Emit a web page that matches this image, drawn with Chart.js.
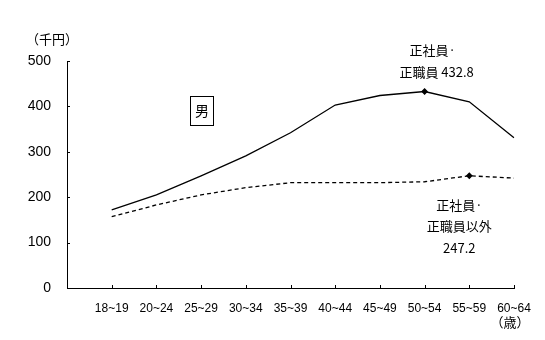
<!DOCTYPE html>
<html>
<head>
<meta charset="utf-8">
<script src="https://cdn.jsdelivr.net/npm/chart.js@4/dist/chart.umd.min.js"></script>
<style>
  html, body { margin: 0; padding: 0; background: #fff; }
  #wrap { width: 545px; height: 340px; }
</style>
</head>
<body>
<div id="wrap"><canvas id="myChart"></canvas></div>
<script>
// categories (first slot is empty so the axis starts one step before 18~19)
const ages = ['', '18~19', '20~24', '25~29', '30~34', '35~39', '40~44', '45~49', '50~54', '55~59', '60~64']
const seishain = [null, 172, 205, 247, 291, 342, 403, 424, 432.8, 410, 331]
const hiseishain = [null, 157, 183, 205, 221, 232, 232, 232, 234, 247.2, 242]
const yTicks = [0, 100, 200, 300, 400, 500]

const jp = '"Noto Sans CJK JP", sans-serif'

const extras = {
  id: 'extras',
  afterDraw(chart) {
    const c = chart.ctx
    const x = chart.scales.x
    const y = chart.scales.y
    c.save()
    c.strokeStyle = '#000'
    c.lineWidth = 1
    // inward tick marks
    x.ticks.forEach((t, i) => {
      if (i === 0) return
      const px = Math.round(x.getPixelForTick(i)) + 0.5
      c.beginPath(); c.moveTo(px, y.bottom); c.lineTo(px, y.bottom - 3); c.stroke()
    })
    yTicks.forEach(v => {
      const py = Math.round(y.getPixelForValue(v)) + 0.5
      c.beginPath(); c.moveTo(x.left, py); c.lineTo(x.left + 3, py); c.stroke()
    })
    c.fillStyle = '#000'
    c.textAlign = 'center'
    c.textBaseline = 'middle'
    c.font = '13px ' + jp
    c.fillText('（千円）', 52, 39)
    c.fillText('（歳）', 510, 322)
    // box label
    c.font = '14px ' + jp
    c.strokeRect(190.5, 96.5, 23, 29)
    c.fillText('男', 202, 111)
    // annotations
    c.font = '13px ' + jp
    const px1 = x.getPixelForValue(8)
    c.fillText('正社員·', px1 + 8, 50)
    c.fillText('正職員 432.8', px1 + 12, 72)
    const px2 = x.getPixelForValue(9)
    c.fillText('正社員·', px2 - 10, 205)
    c.fillText('正職員以外', px2 - 10, 226)
    c.fillText('247.2', px2 - 10, 248)
    c.restore()
  }
}

new Chart(document.querySelector('#myChart'), {
  type: 'line',
  data: {
    labels: ages,
    datasets: [
      {
        label: '正社員・正職員',
        data: seishain,
        borderColor: '#000',
        borderWidth: 1.3,
        pointRadius: seishain.map((v, i) => i === 8 ? 2.5 : 0),
        pointStyle: 'rectRot',
        backgroundColor: '#000',
        tension: 0
      },
      {
        label: '正社員・正職員以外',
        data: hiseishain,
        borderColor: '#000',
        borderWidth: 1.3,
        borderDash: [4, 3],
        pointRadius: hiseishain.map((v, i) => i === 9 ? 2.5 : 0),
        pointStyle: 'rectRot',
        backgroundColor: '#000',
        tension: 0
      }
    ]
  },
  options: {
    responsive: true,
    maintainAspectRatio: false,
    animation: false,
    layout: { padding: { top: 61, right: 31, left: 0, bottom: 0 } },
    plugins: {
      legend: { display: false },
      tooltip: { enabled: false }
    },
    scales: {
      x: {
        offset: false,
        grid: { display: false, drawTicks: false },
        border: { display: true, color: '#000', width: 1 },
        ticks: {
          color: '#000',
          font: { family: 'Liberation Sans', size: 12 },
          maxRotation: 0,
          autoSkip: false,
          padding: 13
        },
        afterFit(s) { s.height = 52 }
      },
      y: {
        min: 0,
        max: 500,
        grid: { display: false, drawTicks: false },
        border: { display: true, color: '#000', width: 1 },
        ticks: {
          stepSize: 100,
          color: '#000',
          font: { family: 'Liberation Sans', size: 14 },
          padding: 16
        },
        afterFit(s) { s.width = 67 }
      }
    }
  },
  plugins: [extras]
})
</script>
</body>
</html>
